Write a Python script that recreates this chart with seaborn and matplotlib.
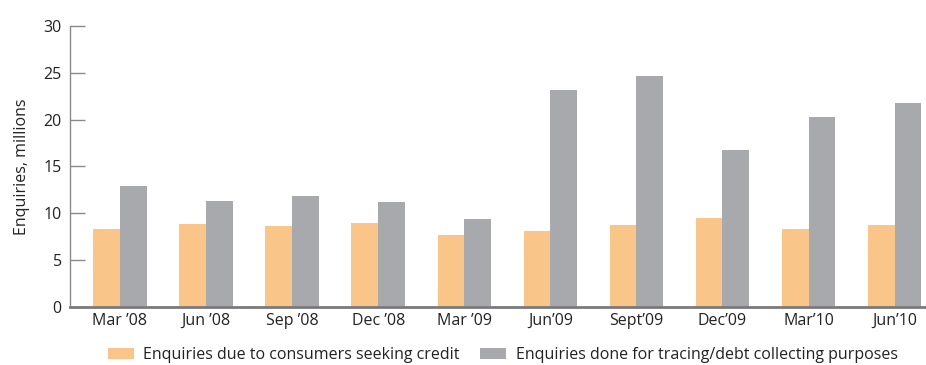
import numpy as np
import pandas as pd
import matplotlib
import matplotlib.pyplot as plt
import seaborn as sns

matplotlib.use("Agg")

quarters = ["Mar \u201908", "Jun \u201908", "Sep \u201908", "Dec \u201908", "Mar \u201909",
            "Jun\u201909", "Sept\u201909", "Dec\u201909", "Mar\u201910", "Jun\u201910"]
credit = [8.3, 8.9, 8.6, 9.0, 7.7, 8.1, 8.8, 9.5, 8.3, 8.8]
tracing = [12.9, 11.3, 11.8, 11.2, 9.4, 23.2, 24.7, 16.8, 20.3, 21.8]
series_names = ["Enquiries due to consumers seeking credit",
                "Enquiries done for tracing/debt collecting purposes"]

df = pd.DataFrame({
    "quarter": quarters * 2,
    "value": credit + tracing,
    "series": [series_names[0]] * len(quarters) + [series_names[1]] * len(quarters),
})

sns.set_style("white")
plt.rcParams['font.family'] = ['Open Sans', 'DejaVu Sans']

fig = plt.figure(figsize=(9.26, 3.65), dpi=100)
ax = fig.add_axes([0.0756, 0.159, 0.923, 0.77])

sns.barplot(data=df, x="quarter", y="value", hue="series",
            palette=["#F9C588", "#A8A9AC"], width=0.62, gap=0,
            saturation=1, linewidth=0, ax=ax, legend=True)

ax.set_ylim(0, 30)
ax.set_xlim(-0.58, 9.35)
ax.set_yticks([0, 5, 10, 15, 20, 25, 30])
ax.set_xlabel("")
ax.set_ylabel("Enquiries, millions", fontsize=11.5, color="#222222", labelpad=10)

for s in ["top", "right"]:
    ax.spines[s].set_visible(False)
ax.spines["left"].set_color("#8a8a8c")
ax.spines["left"].set_linewidth(1.0)
ax.spines["bottom"].set_color("#7a7a7c")
ax.spines["bottom"].set_linewidth(2.0)

ax.tick_params(axis="y", direction="in", length=11, width=1, color="#8a8a8c",
               labelsize=11.5, labelcolor="#222222", pad=6, left=True)
ax.tick_params(axis="x", length=0, labelsize=11.5, labelcolor="#222222", pad=4)

handles, labels = ax.get_legend_handles_labels()
ax.legend_.remove()
fig.legend(handles, labels, loc="center", bbox_to_anchor=(0.543, 0.028), ncol=2,
           frameon=False, fontsize=11.5, handlelength=1.6, handleheight=0.65,
           handletextpad=0.6, columnspacing=1.3, labelcolor="#222222")

fig.savefig("out.png", dpi=100)
